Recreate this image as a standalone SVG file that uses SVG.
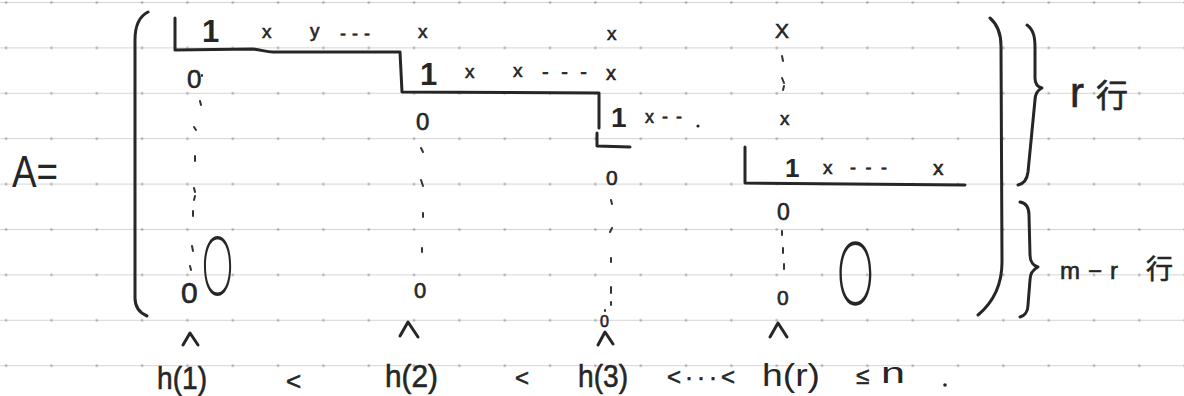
<svg xmlns="http://www.w3.org/2000/svg" width="1184" height="396" viewBox="0 0 1184 396">
<defs>
<pattern id="paper" x="0" y="0" width="45.33" height="45.4" patternUnits="userSpaceOnUse">
<rect x="0" y="2" width="45.4" height="1" fill="#d4d4d4"/>
<rect x="5" y="1.4" width="2.2" height="2.2" fill="#a6a6a6"/>
</pattern>
<style>
.ink{fill:none;stroke:#262626;stroke-width:3;stroke-linecap:round;stroke-linejoin:round}
.dot{fill:none;stroke:#333;stroke-width:2;stroke-linecap:round}
.t{font-family:"Liberation Sans","DejaVu Sans",sans-serif;fill:#262626}
.w{stroke:#262626;stroke-width:0.6}
.one{font-weight:bold}
.thin{font-family:"Inter","Open Sans","Liberation Sans",sans-serif;font-weight:200;fill:#262626}
.cjk{font-family:"Liberation Sans","Noto Sans CJK JP",sans-serif;fill:#262626}
</style>
</defs>
<rect width="1184" height="396" fill="#ffffff"/>
<rect id="paper-lines" width="1184" height="396" fill="url(#paper)"/>

<g id="lhs">
<text class="t" x="12" y="187" font-size="44" textLength="46" lengthAdjust="spacingAndGlyphs">A=</text>
</g>

<g id="brackets">
<path class="ink" d="M148,12 C140,16 135,26 135,40 L135,298 C135,308 140,313 147,316"/>
<path class="ink" d="M990,18 C997,24 1001,34 1001,46 L1002,262 C1002,290 990,305 978,315"/>
<path class="ink" d="M1027,25 C1034,30 1035,38 1035,48 L1035,78 C1035,84 1038,87 1042,88 C1038,90 1035,94 1035,100 L1028,172 C1027,180 1023,184 1018,185"/>
<path class="ink" d="M1020,202 C1026,203 1029,208 1029,215 L1030,255 C1030,262 1034,266 1038,267 C1034,269 1030,273 1030,280 L1028,305 C1028,312 1024,316 1020,317"/>
</g>

<g id="staircase">
<path class="ink" d="M175,18 L175,50 L253,49 C262,50 266,52 273,52 L400,52 L402,92 L599,93 L599,128"/>
<path class="ink" d="M597,133 L597,146 L630,147"/>
<path class="ink" d="M745,147 L745,183 L965,185"/>
</g>

<g id="row1">
<text class="t one" x="202" y="42" font-size="31">1</text>
<text class="t w" x="262" y="38" font-size="19">x</text>
<text class="t w" x="310" y="37" font-size="19">y</text>
<text class="t w" x="340" y="40" font-size="18" textLength="30">- - -</text>
<text class="t w" x="418" y="38" font-size="19">x</text>
<text class="t w" x="607" y="40" font-size="19">x</text>
<text class="t w" x="775" y="38" font-size="21">X</text>
</g>

<g id="row2">
<text class="t w" x="187" y="88" font-size="26">0</text>
<text class="t one" x="420" y="85" font-size="31">1</text>
<text class="t w" x="465" y="78" font-size="19">x</text>
<text class="t w" x="513" y="77" font-size="19">x</text>
<text class="t w" x="542" y="79" font-size="20" textLength="45">- - -</text>
<text class="t w" x="606" y="80" font-size="20">x</text>
</g>

<g id="row3">
<text class="t w" x="416" y="130" font-size="24">0</text>
<text class="t one" x="611" y="127" font-size="28">1</text>
<text class="t w" x="645" y="123" font-size="18" textLength="37">x--</text>
<circle cx="698" cy="126" r="1.6" fill="#262626"/>
<text class="t w" x="780" y="125" font-size="19">x</text>
</g>

<g id="row4">
<text class="t w" x="606" y="185" font-size="21">0</text>
<text class="t one" x="785" y="177" font-size="26">1</text>
<text class="t w" x="823" y="174" font-size="19">x</text>
<text class="t w" x="850" y="174" font-size="18" textLength="37">- - -</text>
<text class="t w" x="933" y="175" font-size="21">x</text>
</g>

<g id="zero-rows">
<text class="t w" x="777" y="220" font-size="23">0</text>
<text class="t w" x="181" y="303" font-size="30">0</text>
<text class="t w" x="414" y="298" font-size="22">0</text>
<text class="t w" x="600" y="327" font-size="16">0</text>
<text class="t w" x="777" y="305" font-size="21">0</text>
<text class="thin" x="0" y="0" font-size="80" transform="translate(201,295) scale(0.55,1)">O</text>
<text class="thin" x="0" y="0" font-size="86" transform="translate(836,305) scale(0.6,1)">O</text>
</g>

<g id="dots">
<path class="dot" d="M202,75 L202,76 M200,101 L201,105 M194,127 L196,130 M195,156 L195,161 M194,188 L195,192 M195,196 L194,200 M193,211 L193,216 M192,246 L193,251 M190,266 L191,270"/>
<path class="dot" d="M421,148 L423,152 M421,180 L423,186 M423,213 L423,217 M422,248 L422,252"/>
<path class="dot" d="M611,200 L612,204 M612,228 L610,232 M611,258 L611,262 M611,287 L611,293 M611,302 L611,305 M605,310 L605,311"/>
<path class="dot" d="M782,56 L783,61 M782,78 L784,83 M784,86 L783,90"/>
<path class="dot" d="M782,231 L782,235 M783,248 L783,253 M784,264 L784,269"/>
</g>

<g id="pointers">
<path class="ink" stroke-width="2.2" d="M183,345 L190,333 L198,345"/>
<path class="ink" stroke-width="2.2" d="M400,336 L408,322 L418,337"/>
<path class="ink" stroke-width="2.2" d="M598,345 L605,332 L613,344"/>
<path class="ink" stroke-width="2.2" d="M770,337 L778,323 L787,337"/>
</g>

<g id="indices">
<text class="t w" x="157" y="389" font-size="32" textLength="50" lengthAdjust="spacingAndGlyphs">h(1)</text>
<text class="t w" x="286" y="390" font-size="26">&lt;</text>
<text class="t w" x="385" y="387" font-size="32" textLength="53" lengthAdjust="spacingAndGlyphs">h(2)</text>
<text class="t w" x="515" y="386" font-size="24">&lt;</text>
<text class="t w" x="578" y="387" font-size="32" textLength="50" lengthAdjust="spacingAndGlyphs">h(3)</text>
<text class="t w" x="667" y="385" font-size="24" textLength="68" lengthAdjust="spacing">&lt;···&lt;</text>
<text class="t" x="762" y="386" font-size="32" textLength="58" lengthAdjust="spacingAndGlyphs">h(r)</text>
<text class="t w" x="856" y="384" font-size="24">≤</text>
<text class="t" x="881" y="383" font-size="30" textLength="24" lengthAdjust="spacingAndGlyphs">n</text>
<circle cx="945" cy="385" r="1.8" fill="#262626"/>
</g>

<g id="row-counts">
<text class="cjk w" y="107"><tspan x="1070" font-size="42">r</tspan><tspan x="1096" font-size="32">行</tspan></text>
<text class="cjk w" y="279"><tspan x="1060" font-size="24">m</tspan><tspan x="1088" font-size="24">−</tspan><tspan x="1110" font-size="24">r</tspan><tspan x="1146" font-size="27">行</tspan></text>
</g>
</svg>
